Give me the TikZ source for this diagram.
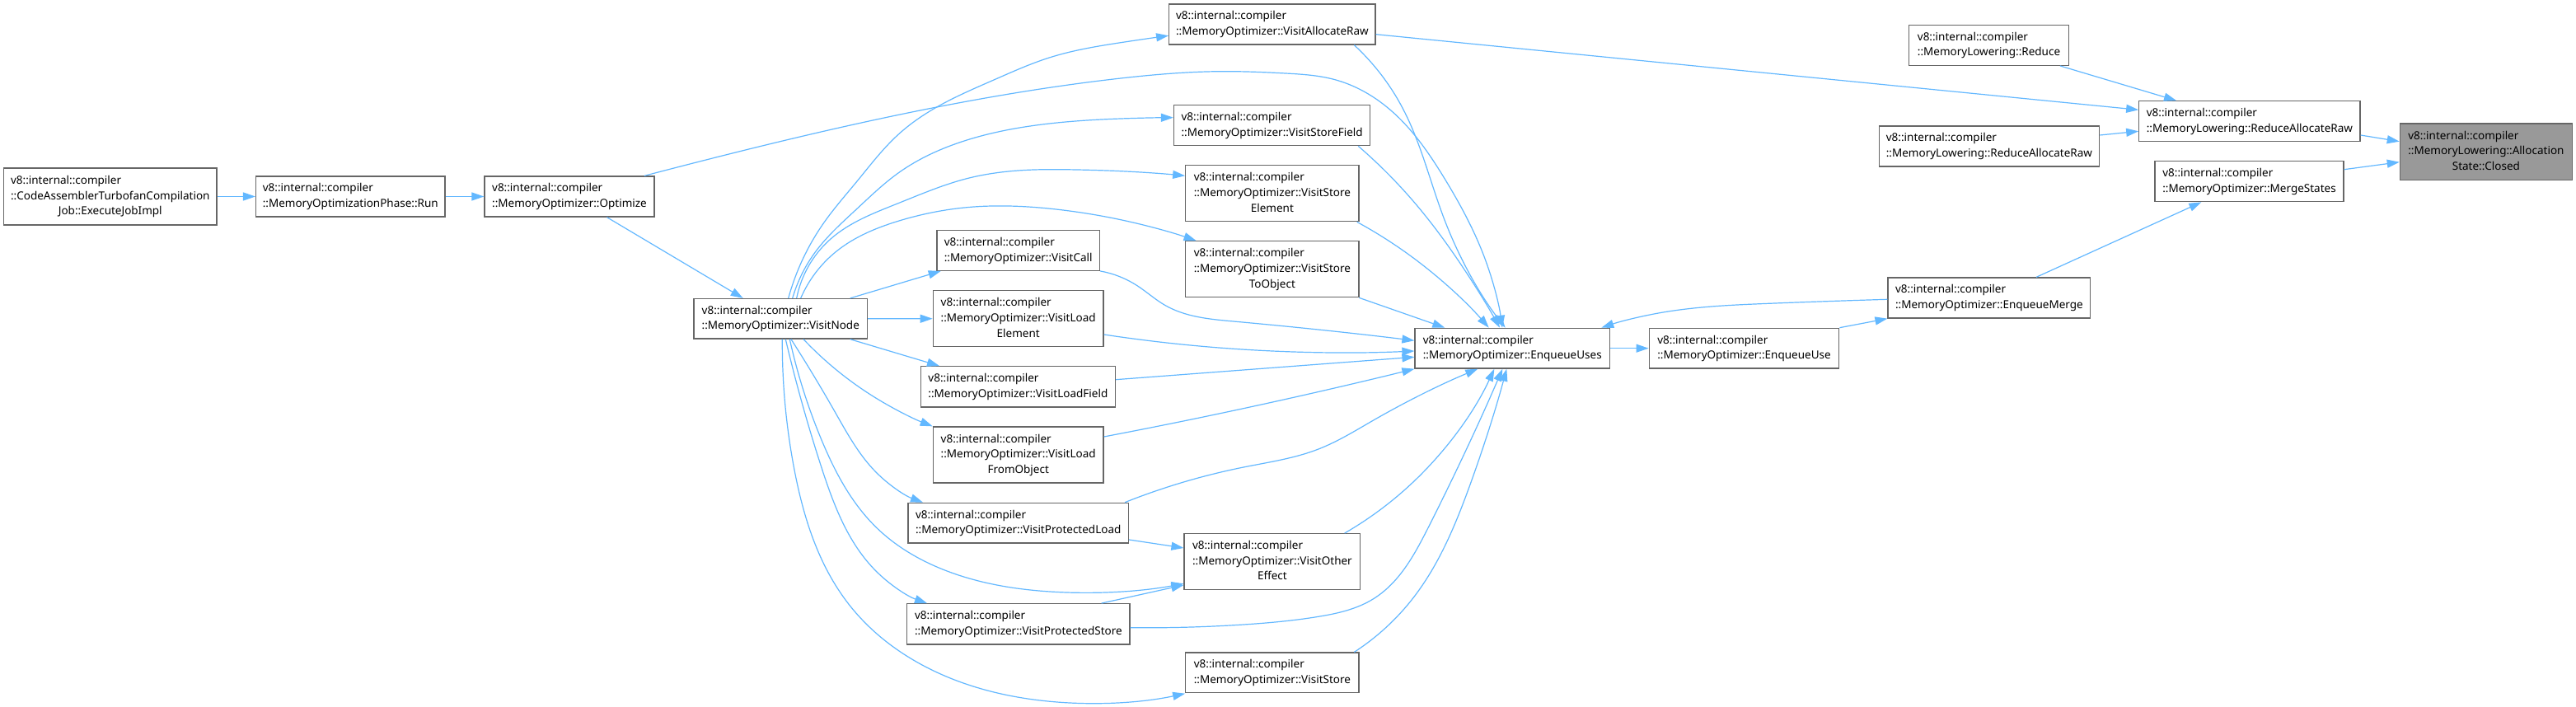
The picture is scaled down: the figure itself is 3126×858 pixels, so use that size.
\documentclass[tikz,border=0pt]{standalone}
\usepackage{fontspec}
\setmainfont{Noto Sans}
\usetikzlibrary{arrows.meta,hobby}
\definecolor{edgeblue}{HTML}{63B8FF}
\definecolor{boxgray}{HTML}{666666}
\definecolor{rootfill}{HTML}{999999}
\newcommand\labII[1]{\begin{tabular}{@{}l@{}}v8::internal::compiler\\#1\end{tabular}}
\newcommand\labIII[2]{\begin{tabular}{@{}l@{}}v8::internal::compiler\\#1\\\multicolumn{1}{@{}c@{}}{#2}\end{tabular}}
\tikzset{
  fn/.style={draw=boxgray, line width=1.3pt, fill=white, rectangle, inner sep=0pt,
    font=\fontsize{13.5}{18.7}\selectfont},
  rootfn/.style={fn, fill=rootfill},
  call/.style={draw=edgeblue, line width=1.2pt, -{Triangle[length=15pt,width=10pt]}},
  hcall/.style={call, use Hobby shortcut},
}
\begin{document}
\begin{tikzpicture}[x=1pt,y=-1pt]
\fill[white] (0,0) rectangle (3126,858);
\useasboundingbox (0,0) rectangle (3126,858);
% nodes
\node[fn, minimum width=258.4pt, minimum height=69pt] (exec) at (133.8,238.5)
  {\labIII{::CodeAssemblerTurbofanCompilation}{Job::ExecuteJobImpl}};
\node[fn, minimum width=229.4pt, minimum height=49pt] (run) at (425.3,238.5)
  {\labII{::MemoryOptimizationPhase::Run}};
\node[fn, minimum width=206pt, minimum height=49pt] (opt) at (691,238.5)
  {\labII{::MemoryOptimizer::Optimize}};
\node[fn, minimum width=210.5pt, minimum height=48.5pt] (vnode) at (947.3,386.8)
  {\labII{::MemoryOptimizer::VisitNode}};
\node[fn, minimum width=250.3pt, minimum height=49pt] (var) at (1543.9,29.5)
  {\labII{::MemoryOptimizer::VisitAllocateRaw}};
\node[fn, minimum width=238.2pt, minimum height=49pt] (vsf) at (1543.6,152.2)
  {\labII{::MemoryOptimizer::VisitStoreField}};
\node[fn, minimum width=210.2pt, minimum height=68pt] (vse) at (1543.9,234.7)
  {\labIII{::MemoryOptimizer::VisitStore}{Element}};
\node[fn, minimum width=210.2pt, minimum height=68pt] (vsto) at (1543.9,326.7)
  {\labIII{::MemoryOptimizer::VisitStore}{ToObject}};
\node[fn, minimum width=197.4pt, minimum height=48.6pt] (vcall) at (1235.7,304)
  {\labII{::MemoryOptimizer::VisitCall}};
\node[fn, minimum width=206.7pt, minimum height=68pt] (vle) at (1235.7,386.7)
  {\labIII{::MemoryOptimizer::VisitLoad}{Element}};
\node[fn, minimum width=235.9pt, minimum height=49.3pt] (vlf) at (1235.4,469.4)
  {\labII{::MemoryOptimizer::VisitLoadField}};
\node[fn, minimum width=206.7pt, minimum height=68pt] (vlfo) at (1235.7,552)
  {\labIII{::MemoryOptimizer::VisitLoad}{FromObject}};
\node[fn, minimum width=267.4pt, minimum height=48.7pt] (vpl) at (1235.7,634.7)
  {\labII{::MemoryOptimizer::VisitProtectedLoad}};
\node[fn, minimum width=213.7pt, minimum height=67.6pt] (voe) at (1543.9,681.5)
  {\labIII{::MemoryOptimizer::VisitOther}{Effect}};
\node[fn, minimum width=270.3pt, minimum height=49.3pt] (vps) at (1235.9,757.4)
  {\labII{::MemoryOptimizer::VisitProtectedStore}};
\node[fn, minimum width=210.2pt, minimum height=48.7pt] (vs) at (1543.9,816.4)
  {\labII{::MemoryOptimizer::VisitStore}};
\node[fn, minimum width=236.5pt, minimum height=48.7pt] (eus) at (1835.3,422.7)
  {\labII{::MemoryOptimizer::EnqueueUses}};
\node[fn, minimum width=230.4pt, minimum height=48.7pt] (eu) at (2116.5,422.7)
  {\labII{::MemoryOptimizer::EnqueueUse}};
\node[fn, minimum width=245.7pt, minimum height=49pt] (em) at (2413.9,361.5)
  {\labII{::MemoryOptimizer::EnqueueMerge}};
\node[fn, minimum width=229pt, minimum height=49pt] (ms) at (2729.5,220.2)
  {\labII{::MemoryOptimizer::MergeStates}};
\node[fn, minimum width=268.2pt, minimum height=48.6pt] (rar) at (2729.9,147)
  {\labII{::MemoryLowering::ReduceAllocateRaw}};
\node[fn, minimum width=267.4pt, minimum height=49pt] (rarl) at (2413.9,177.5)
  {\labII{::MemoryLowering::ReduceAllocateRaw}};
\node[fn, minimum width=193.7pt, minimum height=49pt] (red) at (2413.5,54.8)
  {\labII{::MemoryLowering::Reduce}};
\node[rootfn, minimum width=209.1pt, minimum height=68.3pt] (closed) at (3016.9,184.2)
  {\labIII{::MemoryLowering::Allocation}{State::Closed}};
% edges
\draw[call] (exec) -- (run);
\draw[call] (run) -- (opt);
\draw[call] (736.5,0 |- opt.south) -- (901.7,0 |- vnode.north);
\draw[hcall] (782,0 |- opt.north) .. (840,198.3) .. (1136.7,130) .. (1360,95) .. (1480,86.7) .. (1560,89) .. (1620,96.7) .. (1686.7,133) .. (1753,216.7) .. (1803,316.7) .. (1823,0 |- eus.north);
\draw[hcall] (956.7,0 |- vnode.north) .. (1000,270) .. (1040,220) .. (1090,163.3) .. (1136.7,130) .. (1206.7,96.7) .. (1273.3,70) .. (1360,51.7) .. (var.west |- 0,43.3);
\draw[hcall] (961.7,0 |- vnode.north) .. (990,305) .. (1040,253.3) .. (1090,210) .. (1173.3,170) .. (1273.3,150) .. (1360,144) .. (vsf.west |- 0,142.7);
\draw[hcall] (966.7,0 |- vnode.north) .. (1008,290) .. (1090,246.7) .. (1173.3,216.7) .. (1240,206.7) .. (1306.7,206) .. (1360,207.7) .. (vse.west |- 0,213.3);
\draw[hcall] (971.7,0 |- vnode.north) .. (1015,305) .. (1090,268.3) .. (1173.3,251.7) .. (1223.3,250) .. (1290,255) .. (1360,266.7) .. (1451.5,0 |- vsto.north);
\draw[call] (1031.7,0 |- vnode.north) -- (1141.7,0 |- vcall.south);
\draw[call] (vnode) -- (vle);
\draw[call] (1031.7,0 |- vnode.south) -- (1140,0 |- vlf.north);
\draw[hcall] (975,0 |- vnode.south) .. (1063.3,483.3) .. (vlfo.north west);
\draw[hcall] (960,0 |- vnode.south) .. (1013.3,500) .. (1063.3,573.3) .. (1120,0 |- vpl.north);
\draw[hcall] (958.3,0 |- vnode.south) .. (996.7,533.3) .. (1063.3,640) .. (1150,693.3) .. (1279,718.3) .. (voe.west |- 0,708.3);
\draw[hcall] (953.3,0 |- vnode.south) .. (996.7,566.7) .. (1063.3,693.3) .. (1125,0 |- vps.north);
\draw[hcall] (949.3,0 |- vnode.south) .. (963.3,566.7) .. (1030,733.3) .. (1150,821.7) .. (1279,851.7) .. (vs.west |- 0,841.7);
\draw[call] (vpl.east |- 0,655) -- (voe.west |- 0,665);
\draw[call] (1336.6,0 |- vps.north) -- (voe.west |- 0,710);
\draw[hcall] (1643.3,0 |- var.south) .. (1703,133) .. (1753,267) .. (1826.7,0 |- eus.north);
\draw[call] (var.east |- 0,41.7) -- (rar.west |- 0,133.3);
\draw[hcall] (1648.3,0 |- vsf.south) .. (1720,250) .. (1770,316.7) .. (1820,0 |- eus.north);
\draw[hcall] (1646.7,0 |- vse.south) .. (1720,316.7) .. (1806.7,0 |- eus.north);
\draw[call] (1649.3,0 |- vsto.south) -- (1753.3,0 |- eus.north);
\draw[hcall] (vcall.south east) .. (1380,346.7) .. (1413,370) .. (1496.7,390) .. (eus.west |- 0,413.3);
\draw[hcall] (vle.east |- 0,406) .. (1496.7,423.3) .. (eus.west |- 0,426);
\draw[call] (vlf.east |- 0,460.7) -- (eus.west |- 0,433.3);
\draw[hcall] (vlfo.east |- 0,530) .. (1580,480) .. (eus.south west);
\draw[hcall] (1365,0 |- vpl.north) .. (1509,567) .. (1600,545) .. (1666.7,510) .. (1793.3,0 |- eus.south);
\draw[hcall] (1631.7,0 |- voe.north) .. (1716.7,583.3) .. (1813.3,0 |- eus.south);
\draw[hcall] (vps.east |- 0,761.7) .. (1509,758) .. (1600,748.3) .. (1666.7,726.7) .. (1733.3,640) .. (1823.3,0 |- eus.south);
\draw[hcall] (1643.3,0 |- vs.north) .. (1716.7,723.3) .. (1783.3,590) .. (1828.3,0 |- eus.south);
\draw[call] (eus) -- (eu);
\draw[call] (eu.north east) -- (em.south west);
\draw[hcall] (em.west |- 0,363.3) .. (2146.4,368.3) .. (2012.5,380) .. (1943.3,0 |- eus.north);
\draw[call] (2471,0 |- em.north) -- (2671.4,0 |- ms.south);
\draw[call] (ms.east |- 0,205.7) -- (closed.west |- 0,196.7);
\draw[call] (rar.east |- 0,164) -- (closed.west |- 0,171.7);
\draw[call] (2500,0 |- red.south) -- (2641,0 |- rar.north);
\draw[call] (rarl.east |- 0,164) -- (rar.west |- 0,159.3);
\end{tikzpicture}
\end{document}
